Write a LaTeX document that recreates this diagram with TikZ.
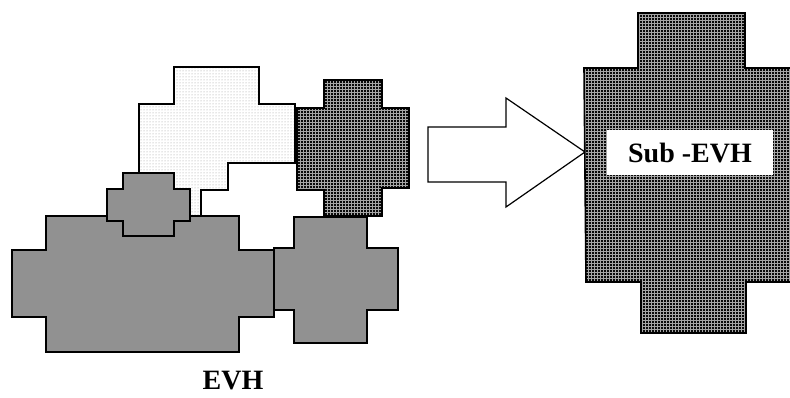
\documentclass[tikz,border=0pt]{standalone}
\usepackage{fontspec}
\setmainfont{Liberation Serif}
\usetikzlibrary{patterns, positioning}
\definecolor{evhgray}{RGB}{145, 145, 145}
\definecolor{evhdark}{RGB}{10, 10, 10}

\begin{document}
\begin{tikzpicture}[x=1pt, y=-1pt,
  cell/.style={draw, line width=1.6pt, line join=miter},
  lightcell/.style={cell, preaction={fill=white}, pattern=dots, pattern color=gray!80},
  graycell/.style={cell, fill=evhgray},
  darkcell/.style={cell, preaction={fill=evhdark}, pattern=grid, pattern color=gray!70},
  label/.style={font=\bfseries\fontsize{28}{30}\selectfont, inner sep=0pt}]
\useasboundingbox (0,0) rectangle (790,398);
% light cell at the top
\draw[lightcell] (174,67) -- (259,67) -- (259,104) -- (295,104) -- (295,163) -- (228,163)
  -- (228,190) -- (201,190) -- (201,216) -- (139,216) -- (139,104) -- (174,104) -- cycle;
% dark cell at the top right
\draw[darkcell] (324,80) -- (382,80) -- (382,108) -- (409,108) -- (409,188) -- (382,188)
  -- (382,216) -- (324,216) -- (324,190) -- (297,190) -- (297,108) -- (324,108) -- cycle;
% big gray cell
\draw[graycell] (46,216) -- (239,216) -- (239,250) -- (274,250) -- (274,317) -- (239,317)
  -- (239,352) -- (46,352) -- (46,317) -- (12,317) -- (12,250) -- (46,250) -- cycle;
% gray cell on the right
\draw[graycell] (294,217) -- (367,217) -- (367,248) -- (398,248) -- (398,310) -- (367,310)
  -- (367,343) -- (294,343) -- (294,310) -- (274,310) -- (274,248) -- (294,248) -- cycle;
% small gray cell
\draw[graycell] (123,173) -- (174,173) -- (174,189) -- (190,189) -- (190,221) -- (174,221)
  -- (174,236) -- (123,236) -- (123,221) -- (107,221) -- (107,189) -- (123,189) -- cycle;
% block arrow
\draw[line width=1.2pt, fill=white] (428,127) -- (506,127) -- (506,98) -- (585,152)
  -- (506,207) -- (506,182) -- (428,182) -- cycle;
% merged cell
\draw[darkcell] (638,13) -- (745,13) -- (745,68) -- (795,68) -- (795,282) -- (746,282)
  -- (746,333) -- (641,333) -- (641,282) -- (586,282) -- (584,68) -- (638,68) -- cycle;
\fill[white] (607,130) rectangle (773,175);
\node[label] (sub) at (690,153) {Sub -EVH};
\node[label] (evh) at (233,381) {EVH};
\end{tikzpicture}
\end{document}
